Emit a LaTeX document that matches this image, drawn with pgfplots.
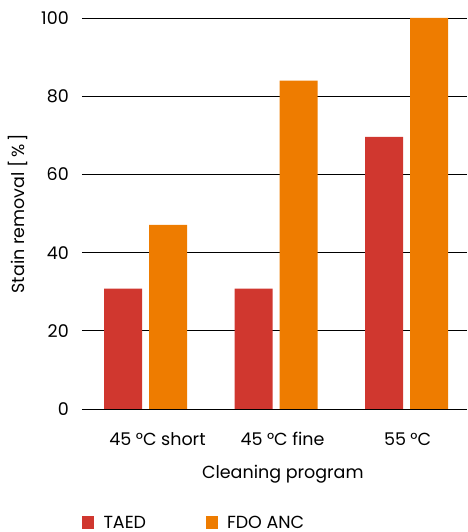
\documentclass[border=0pt]{standalone}
\usepackage{fontspec}
\setmainfont{Poppins}
\usepackage{pgfplots}
\pgfplotsset{compat=1.18}
\definecolor{taed}{HTML}{D0372F}
\definecolor{fdo}{HTML}{EE7C00}
\begin{document}
\fontsize{17.5}{21}\selectfont
\begin{tikzpicture}
\begin{axis}[
  at={(82pt,123pt)}, anchor=south west,
  width=385pt, height=391pt, scale only axis,
  ybar=7pt, bar width=38pt,
  xmin=-0.487, xmax=2.463, ymin=0, ymax=100,
  xtick=data,
  xticklabels={\hspace*{24pt}45\hspace{0.25em}°C short, \hspace*{13pt}45\hspace{0.25em}°C fine, \hspace*{2pt}55\hspace{0.25em}°C},
  ytick={0,20,...,100},
  major tick length=0pt,
  axis line style={draw=none},
  ymajorgrids, major grid style={black, line width=0.9pt},
  /pgf/number format/assume math mode=true,
  yticklabel style={anchor=east, inner sep=0pt, xshift=-13pt},
  xticklabel style={anchor=base, inner sep=0pt, yshift=-36pt},
  xlabel={Cleaning program},
  xlabel style={at={(rel axis cs:0.5216,0)}, anchor=base, inner sep=0pt, yshift=-69pt},
  ylabel={Stain removal [\,\%\,]},
  ylabel style={at={(rel axis cs:-0.1675,0.5)}, anchor=center, inner sep=0pt},
  legend columns=2,
  legend style={draw=none, fill=none, inner sep=0pt, outer sep=0pt,
    at={(rel axis cs:0,0)}, anchor=north west, yshift=-107pt,
    nodes={inner sep=0pt}, cells={anchor=base west},
    /tikz/every odd column/.append style={column sep=9pt}},
  legend image code/.code={\fill[#1] (0pt,0pt) rectangle (12.5pt,12.5pt);},
]
\addplot[fill=taed, draw=none] coordinates {(0,30.8) (1,30.8) (2,69.6)};
\addplot[fill=fdo, draw=none] coordinates {(0,47.1) (1,84) (2,100)};
\legend{\makebox[102pt][l]{TAED}, FDO ANC}
\end{axis}
\pgfresetboundingbox
\path[use as bounding box] (0,0) rectangle (467pt,532pt);
\end{tikzpicture}
\end{document}
